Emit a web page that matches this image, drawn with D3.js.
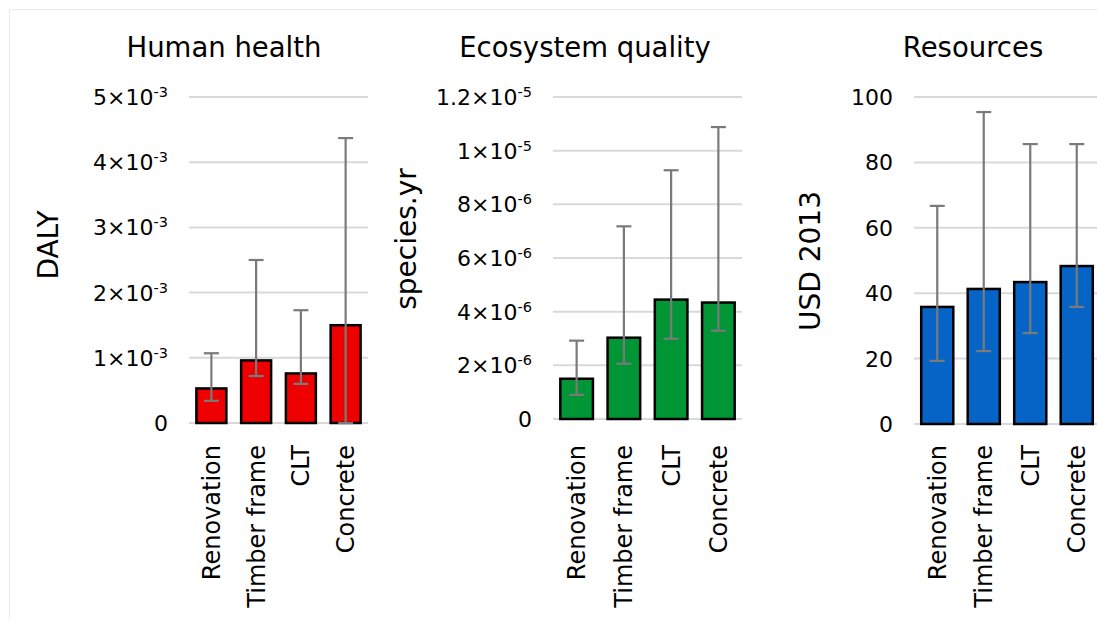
<!DOCTYPE html>
<html><head><meta charset="utf-8">
<script src="https://cdn.jsdelivr.net/npm/d3@7"></script>
<style>
html,body{margin:0;padding:0;background:#fff;}
svg{display:block;font-family:"DejaVu Sans",sans-serif;}
</style></head>
<body>
<script>
const categories = ["Renovation", "Timber frame", "CLT", "Concrete"];

const healthValues = [0.53e-3, 0.96e-3, 0.76e-3, 1.5e-3];
const healthUpper  = [1.07e-3, 2.5e-3, 1.73e-3, 4.37e-3];
const healthLower  = [0.34e-3, 0.72e-3, 0.6e-3, 0];
const healthTicks  = [0, 1e-3, 2e-3, 3e-3, 4e-3, 5e-3];
const healthTickLabels = [["0",""],["1×10","-3"],["2×10","-3"],["3×10","-3"],["4×10","-3"],["5×10","-3"]];

const ecoValues = [1.5e-6, 3.03e-6, 4.45e-6, 4.34e-6];
const ecoUpper  = [2.92e-6, 7.18e-6, 9.27e-6, 10.88e-6];
const ecoLower  = [0.9e-6, 2.06e-6, 2.99e-6, 3.29e-6];
const ecoTicks  = [0, 2e-6, 4e-6, 6e-6, 8e-6, 1e-5, 1.2e-5];
const ecoTickLabels = [["0",""],["2×10","-6"],["4×10","-6"],["6×10","-6"],["8×10","-6"],["1×10","-5"],["1.2×10","-5"]];

const resValues = [35.8, 41.3, 43.4, 48.3];
const resUpper  = [66.7, 95.4, 85.6, 85.6];
const resLower  = [19.3, 22.3, 27.8, 35.8];
const resTicks  = [0, 20, 40, 60, 80, 100];
const resTickLabels = [["0",""],["20",""],["40",""],["60",""],["80",""],["100",""]];

const W = 1097, H = 628;
const svg = d3.select("body").append("svg").attr("width", W).attr("height", H);

// faint frame
svg.append("path").attr("d", `M9.5,${H-8} V9.5 H${W}`).attr("fill","none").attr("stroke","#ebebeb").attr("stroke-width",1);

const panels = [
  {title:"Human health", titleX:224, ylab:"DALY", ylabX:58, ylabY:245,
   x0:189, x1:368, y0:423, y1:97, max:5e-3, vals:healthValues, up:healthUpper, lo:healthLower,
   ticks:healthTicks, tl:healthTickLabels, color:"#ee0000", pad:0.33},
  {title:"Ecosystem quality", titleX:585, ylab:"species.yr", ylabX:416, ylabY:239,
   x0:553, x1:742, y0:419, y1:97, max:1.2e-5, vals:ecoValues, up:ecoUpper, lo:ecoLower,
   ticks:ecoTicks, tl:ecoTickLabels, color:"#009535", pad:0.31},
  {title:"Resources", titleX:973, ylab:"USD 2013", ylabX:820, ylabY:261,
   x0:914, x1:1100, y0:424, y1:97, max:100, vals:resValues, up:resUpper, lo:resLower,
   ticks:resTicks, tl:resTickLabels, color:"#0664c6", pad:0.31}
];

panels.forEach(p => {
  const g = svg.append("g");
  const x = d3.scaleBand().domain(categories).range([p.x0, p.x1]).paddingInner(p.pad).paddingOuter(p.pad/2);
  const y = d3.scaleLinear().domain([0, p.max]).range([p.y0, p.y1]);

  // gridlines
  g.selectAll(".grid").data(p.ticks).join("line")
    .attr("x1", p.x0).attr("x2", Math.min(p.x1, W))
    .attr("y1", d => y(d)).attr("y2", d => y(d))
    .attr("stroke", "#d9d9d9").attr("stroke-width", 2);

  // tick labels
  const tl = g.selectAll(".tl").data(p.ticks).join("text")
    .attr("x", p.x0 - 21).attr("y", d => y(d)).attr("dy", "0.36em")
    .attr("text-anchor", "end").attr("font-size", 22).attr("fill", "#000");
  tl.each(function(d, i) {
    const t = d3.select(this);
    const lab = p.tl[i];
    t.append("tspan").text(lab[0]);
    if (lab[1]) {
      t.append("tspan").attr("font-size", 14.5).attr("dy", "-0.55em").text(lab[1]);
    }
  });

  // bars
  g.selectAll(".bar").data(categories).join("rect")
    .attr("x", d => x(d)).attr("width", x.bandwidth())
    .attr("y", (d, i) => y(p.vals[i])).attr("height", (d, i) => y(0) - y(p.vals[i]))
    .attr("fill", p.color).attr("stroke", "#000").attr("stroke-width", 2.5);

  // error bars
  const eb = g.selectAll(".eb").data(categories).join("g")
    .attr("stroke", "#7a7a7a").attr("stroke-width", 2.2);
  eb.append("line")
    .attr("x1", d => x(d) + x.bandwidth()/2).attr("x2", d => x(d) + x.bandwidth()/2)
    .attr("y1", (d, i) => y(p.up[i])).attr("y2", (d, i) => y(p.lo[i]));
  eb.append("line")
    .attr("x1", d => x(d) + x.bandwidth()/2 - 7.5).attr("x2", d => x(d) + x.bandwidth()/2 + 7.5)
    .attr("y1", (d, i) => y(p.up[i])).attr("y2", (d, i) => y(p.up[i]));
  eb.append("line")
    .attr("x1", d => x(d) + x.bandwidth()/2 - 7.5).attr("x2", d => x(d) + x.bandwidth()/2 + 7.5)
    .attr("y1", (d, i) => y(p.lo[i])).attr("y2", (d, i) => y(p.lo[i]));

  // category labels
  g.selectAll(".cl").data(categories).join("text")
    .attr("transform", d => `translate(${x(d) + x.bandwidth()/2},445) rotate(-90)`)
    .attr("dy", "0.35em").attr("text-anchor", "end")
    .attr("font-size", 24).attr("fill", "#000").text(d => d);

  // title
  g.append("text").attr("x", p.titleX).attr("y", 57).attr("text-anchor", "middle")
    .attr("font-size", 27.5).attr("fill", "#000").text(p.title);

  // y axis label
  g.append("text").attr("transform", `translate(${p.ylabX},${p.ylabY}) rotate(-90)`)
    .attr("text-anchor", "middle").attr("font-size", 28).attr("fill", "#000").text(p.ylab);
});
</script>
</body></html>
